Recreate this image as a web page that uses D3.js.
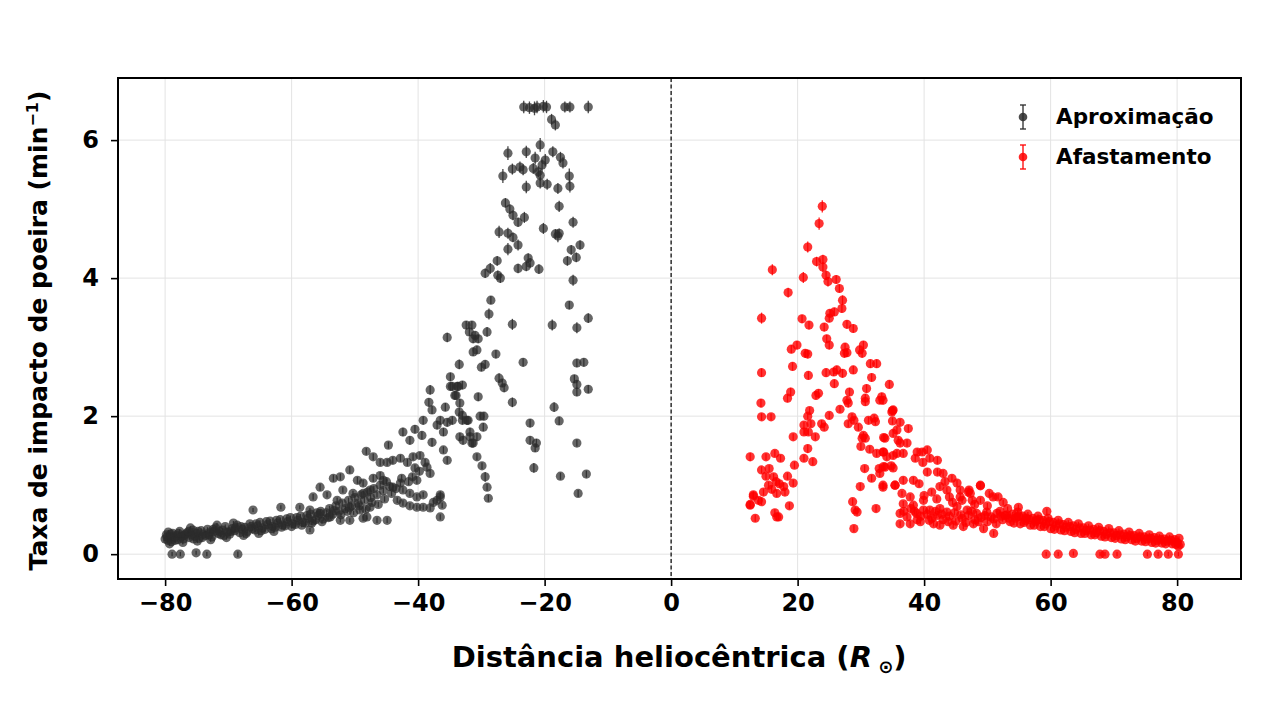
<!DOCTYPE html>
<html>
<head>
<meta charset="utf-8">
<script src="https://cdn.jsdelivr.net/npm/d3@7"></script>
<style>
  body { margin: 0; background: #fff; }
  svg text { font-family: "DejaVu Sans", sans-serif; font-weight: bold; }
</style>
</head>
<body>
<svg id="chart" width="1280" height="720"></svg>
<script>
// Aproximação: [distância (R☉), taxa (min^-1), erro]
const approachBand = [
  [-80.0,.22,.03],[-79.8,.28,.03],[-79.6,.20,.03],[-79.5,.32,.03],[-79.2,.25,.03],[-79.0,.18,.03],[-78.8,.30,.03],
  [-78.5,.24,.03],[-78.2,.27,.03],[-78.0,.21,.03],[-77.7,.33,.03],[-77.4,.26,.03],[-77.1,.22,.03],[-76.8,.29,.03],
  [-76.5,.31,.03],[-76.2,.24,.03],[-75.9,.28,.03],[-75.6,.35,.03],[-75.3,.26,.03],[-75.0,.30,.03],[-74.6,.23,.03],
  [-74.3,.34,.03],[-74.0,.29,.03],[-73.6,.27,.03],[-73.3,.36,.03],[-73.0,.31,.03],[-72.6,.25,.03],[-72.3,.33,.03],
  [-72.0,.38,.03],[-71.6,.30,.03],[-71.2,.28,.03],[-70.9,.35,.03],[-70.5,.40,.03],[-70.1,.32,.03],[-69.8,.29,.03],
  [-69.4,.37,.03],[-69.0,.34,.03],[-68.6,.42,.03],[-68.2,.31,.03],[-67.8,.36,.03],[-67.4,.39,.03],[-67.0,.33,.03],
  [-66.6,.44,.03],[-66.2,.37,.03],[-65.8,.35,.03],[-65.4,.41,.03],[-65.0,.46,.03],[-64.6,.38,.03],[-64.2,.36,.03],
  [-63.8,.43,.03],[-63.4,.48,.03],[-63.0,.40,.03],[-62.6,.39,.03],[-62.2,.45,.03],[-61.8,.50,.03],[-61.4,.42,.03],
  [-61.0,.41,.03],[-60.6,.47,.03],[-60.2,.53,.03],[-59.8,.44,.03],[-59.4,.43,.03],[-59.0,.49,.03],[-58.6,.55,.03],
  [-58.2,.46,.03],[-57.8,.45,.03],[-57.4,.52,.03],[-57.0,.58,.03],[-56.6,.48,.03],[-56.2,.50,.03],[-55.8,.56,.03],
  [-55.4,.62,.03],[-55.0,.51,.03],
  [-78.9,.00,.03],[-77.6,.00,.03],[-75.1,.02,.03],[-73.4,.00,.03],[-68.5,.00,.04],
  [-66.1,.64,.03],[-61.7,.68,.03],[-57.1,.35,.03]
];
const approachBandExtra = [
  [-79.7,.25,.03],[-79.1,.29,.03],[-78.4,.20,.03],[-77.9,.30,.03],[-77.0,.27,.03],[-76.3,.33,.03],[-75.5,.22,.03],
  [-74.8,.33,.03],[-74.1,.24,.03],[-73.1,.28,.03],[-72.4,.36,.03],[-71.4,.33,.03],[-70.7,.27,.03],[-69.6,.33,.03],
  [-68.9,.38,.03],[-68.0,.40,.03],[-67.2,.30,.03],[-66.4,.40,.03],[-65.6,.44,.03],[-64.8,.34,.03],[-64.0,.47,.03],
  [-63.2,.37,.03],[-62.4,.49,.03],[-61.6,.39,.03],[-60.8,.51,.03],[-60.0,.40,.03],[-59.2,.53,.03],[-58.4,.42,.03],
  [-57.6,.56,.03],[-56.8,.45,.03],[-56.0,.60,.03],[-55.2,.47,.03],[-54.2,.53,.03],[-53.3,.63,.03],[-52.2,.57,.03],
  [-51.2,.62,.03],[-50.2,.60,.03],[-49.3,.70,.04],[-48.3,.65,.04],[-47.3,.75,.04],[-46.3,.72,.04],[-45.3,.80,.04],
  [-44.2,.88,.04],[-43.5,.95,.04],[-42.6,1.10,.05],[-41.5,1.05,.05],[-39.8,1.20,.05],[-38.9,1.33,.05],
  [-79.3,.15,.03],[-77.2,.17,.03],[-74.9,.19,.03],[-72.8,.21,.03],[-70.3,.24,.03],[-67.6,.27,.03],[-65.2,.30,.03],
  [-62.8,.33,.03],[-76.0,.38,.03],[-71.8,.42,.03],[-69.2,.45,.03]
];
const approachMid = [
  [-54.5,.60,.04],[-54.0,.66,.04],[-53.5,.58,.04],[-53.0,.70,.04],[-52.5,.62,.04],[-52.0,.74,.04],[-51.5,.66,.04],
  [-51.0,.78,.04],[-50.5,.70,.04],[-50.0,.82,.04],[-49.5,.74,.04],[-49.0,.86,.04],[-48.5,.78,.04],[-48.0,.90,.04],
  [-47.5,.82,.04],[-47.0,.95,.04],[-46.5,.86,.04],[-46.0,1.00,.04],[-45.5,.92,.04],[-45.0,1.05,.04],[-44.5,.98,.04],
  [-58.7,.68,.03],[-57.1,.64,.03],[-55.5,.59,.03],[-53.9,.54,.03],[-52.3,.49,.03],[-50.8,.49,.03],
  [-56.6,.83,.04],[-54.4,.86,.04],[-52.8,.78,.04],[-50.8,.68,.04],[-49.2,.64,.04],[-47.6,.68,.04],
  [-48.1,.54,.04],[-46.5,.49,.04],[-44.9,.49,.04],[-48.7,.52,.04],
  [-43.3,.78,.04],[-42.4,.74,.04],[-41.3,.70,.04],[-40.2,.68,.04],[-39.2,.68,.04],[-38.1,.67,.04],
  [-37.0,.78,.04],[-36.5,.83,.04],[-37.6,.75,.04],[-36.2,.71,.04],[-36.5,.54,.04],[-36.5,.86,.05],
  [-42.4,.93,.04],[-41.3,.88,.04],[-40.2,.83,.04],[-39.2,.86,.04],
  [-45.5,1.07,.05],[-44.0,.97,.05],[-42.8,1.03,.05],
  [-51.9,.93,.04],[-50.3,.88,.04],[-48.7,.88,.04],[-47.6,.93,.04],
  [-49.6,1.07,.05],[-48.7,1.03,.05],[-47.1,1.10,.05],[-46.0,1.14,.05],
  [-53.4,1.10,.05],[-52.3,1.12,.05],[-55.5,.97,.05],[-50.8,1.22,.05],
  [-40.9,1.12,.05],[-40.2,1.07,.05],[-40.5,1.25,.05],[-38.6,1.26,.05],[-38.1,1.17,.05],
  [-46.0,1.33,.05],[-44.9,1.33,.05],[-44.0,1.36,.05],[-42.8,1.39,.05],[-41.7,1.33,.05],[-40.8,1.41,.05],[-39.7,1.43,.05],
  [-48.2,1.49,.05],[-47.1,1.41,.05],[-44.7,1.58,.05],
  [-36.0,1.51,.05],[-35.4,1.36,.05],
  [-42.4,1.77,.06],[-41.3,1.65,.06],[-37.8,1.62,.06],[-40.5,1.81,.06],[-39.4,1.72,.06],[-39.2,1.94,.06],
  [-37.0,1.87,.06],[-36.0,1.77,.06],[-36.5,1.94,.06],[-35.4,1.91,.06],[-34.6,1.94,.06],
  [-38.3,2.20,.06],[-37.8,2.09,.06],[-35.7,2.13,.06],[-38.1,2.38,.07]
];
const approachUpper = [
  [-23.3,6.48,.09],[-22.4,6.47,.09],[-21.6,6.46,.10],[-21.2,6.48,.09],[-20.2,6.49,.09],[-19.7,6.48,.09],
  [-16.8,6.48,.08],[-16.0,6.48,.08],[-13.1,6.48,.09],
  [-18.9,6.30,.08],[-18.3,6.22,.08],[-20.7,5.93,.10],[-25.8,5.81,.10],[-22.9,5.83,.09],[-18.7,5.83,.08],
  [-17.5,5.75,.08],[-17.1,5.67,.08],[-21.5,5.74,.09],[-19.9,5.71,.09],[-25.1,5.58,.08],[-23.9,5.61,.08],
  [-23.4,5.57,.08],[-21.8,5.59,.08],[-21.0,5.54,.08],[-20.4,5.64,.08],[-26.6,5.48,.10],[-20.7,5.49,.08],
  [-16.1,5.48,.11],[-22.9,5.32,.09],[-20.7,5.38,.08],[-19.6,5.36,.08],[-17.9,5.30,.08],[-16.0,5.33,.09],
  [-17.7,5.04,.08],[-26.2,5.09,.07],[-25.5,5.00,.07],[-25.0,4.91,.07],[-24.2,4.81,.07],[-23.2,4.88,.08],
  [-15.5,4.81,.08],[-27.2,4.67,.09],[-25.8,4.65,.08],[-25.0,4.59,.07],[-20.2,4.72,.08],[-18.3,4.64,.07],
  [-17.9,4.61,.09],[-17.7,4.65,.07],[-14.4,4.48,.07],[-25.8,4.42,.09],[-24.2,4.48,.08],[-15.8,4.41,.07],
  [-15.0,4.30,.07],[-16.4,4.25,.07],[-22.6,4.29,.07],[-22.3,4.22,.07],[-24.2,4.14,.07],[-22.9,4.17,.07],
  [-20.9,4.13,.07],[-27.5,4.25,.07],[-28.6,4.14,.08],[-29.4,4.07,.07],[-27.4,4.04,.07],[-27.0,4.00,.07],
  [-15.5,3.97,.08],[-28.5,3.68,.06],[-28.8,3.48,.08],[-16.1,3.61,.06],[-13.1,3.42,.07],[-25.1,3.33,.08],
  [-18.8,3.32,.08],[-14.9,3.28,.08],[-29.1,3.22,.07],[-32.4,3.32,.06],[-31.5,3.32,.06],[-31.9,3.22,.06],
  [-31.0,3.17,.06],[-30.5,3.12,.06],[-31.3,3.12,.06],[-35.4,3.14,.07],[-31.3,2.93,.06],[-30.7,2.96,.06],
  [-27.7,2.90,.06],[-30.0,2.71,.06],[-29.4,2.75,.06],[-23.4,2.78,.06],[-14.9,2.77,.06],[-13.8,2.78,.06],
  [-33.5,2.75,.07],[-34.9,2.57,.06],[-34.6,2.43,.06],[-33.7,2.43,.06],[-33.0,2.45,.06],[-27.2,2.55,.07],
  [-26.7,2.48,.06],[-26.4,2.41,.06],[-15.3,2.54,.06],[-14.9,2.46,.06],[-14.9,2.35,.06],[-13.1,2.39,.06],
  [-34.0,2.30,.06],[-33.4,2.19,.06],[-33.5,2.06,.06],[-30.5,2.28,.06],[-25.1,2.20,.07],[-18.5,2.13,.07],
  [-33.0,2.01,.06],[-32.1,1.94,.06],[-30.2,2.00,.06],[-29.6,2.00,.06],[-29.7,1.84,.06],[-22.3,1.90,.06],
  [-17.7,1.93,.06],[-33.4,1.70,.06],[-31.8,1.77,.06],[-31.5,1.61,.06],[-30.7,1.70,.06],[-22.3,1.65,.06],
  [-21.5,1.54,.06],[-21.3,1.61,.06],[-14.9,1.61,.05],[-30.7,1.41,.05],[-29.9,1.28,.05],[-29.4,1.12,.07],
  [-29.1,.97,.05],[-28.9,.81,.05],[-21.7,1.25,.07],[-17.5,1.13,.05],[-13.4,1.16,.05],[-14.7,.88,.05],
  [-34.9,2.43,.06],[-33.8,2.43,.06],[-34.2,2.30,.06],[-33.0,1.94,.06],[-32.3,1.94,.06],[-32.9,1.65,.06],
  [-31.8,1.70,.06],[-31.3,1.61,.06]
];
// Afastamento
const departureInner = [
  [23.9,5.04,.09],[23.4,4.79,.09],[21.6,4.45,.08],[16.0,4.12,.08],[23.0,4.24,.07],[24.0,4.27,.07],[24.0,4.16,.07],
  [20.9,4.01,.08],[24.5,4.04,.07],[24.8,3.95,.07],[26.1,3.98,.06],[26.6,3.85,.06],[18.5,3.79,.07],[27.1,3.68,.07],
  [27.0,3.56,.06],[25.1,3.49,.06],[25.8,3.51,.06],[14.3,3.42,.08],[20.7,3.41,.06],[21.8,3.32,.06],[24.2,3.29,.06],
  [25.0,3.42,.06],[27.8,3.33,.06],[28.8,3.27,.06],[24.6,3.12,.06],[25.0,3.03,.06],[19.0,2.97,.06],[19.9,3.03,.06],
  [21.2,2.91,.06],[21.6,2.90,.06],[27.5,3.00,.06],[27.8,2.92,.06],[27.4,2.91,.06],[29.8,2.96,.06],[30.4,3.03,.06],
  [30.2,2.91,.06],[19.2,2.72,.06],[31.5,2.76,.06],[32.5,2.76,.06],[14.3,2.63,.06],[21.7,2.59,.06],[24.5,2.63,.06],
  [25.7,2.64,.06],[26.2,2.67,.06],[27.1,2.62,.06],[28.8,2.67,.06],[31.7,2.56,.06],[25.8,2.47,.06],[34.5,2.46,.06],
  [30.9,2.40,.06],[18.9,2.35,.06],[18.4,2.26,.06],[22.9,2.30,.06],[23.3,2.33,.06],[28.2,2.35,.06],[27.8,2.23,.06],
  [28.0,2.19,.06],[30.7,2.26,.06],[30.7,2.21,.06],[33.3,2.28,.06],[33.5,2.23,.06],[14.2,2.19,.06],[26.7,2.10,.05],
  [35.0,2.08,.05],[14.3,1.99,.05],[15.8,1.99,.05],[21.9,2.08,.05],[21.6,2.00,.05],[25.0,2.01,.05],[28.6,1.99,.05],
  [28.9,1.94,.05],[28.0,1.89,.05],[31.2,1.94,.05],[32.1,1.97,.05],[32.3,1.92,.05],[35.0,1.93,.05],[35.7,1.80,.05],
  [21.0,1.87,.05],[22.1,1.89,.05],[21.0,1.77,.05],[21.7,1.77,.05],[23.8,1.89,.05],[24.2,1.84,.05],[22.8,1.70,.05],
  [19.3,1.70,.05],[29.6,1.84,.05],[30.4,1.72,.05],[30.7,1.68,.05],[30.2,1.68,.05],[33.6,1.69,.05],[21.6,1.53,.06],
  [21.0,1.39,.05],[22.4,1.34,.05],[30.0,1.56,.05],[31.4,1.52,.05],[32.5,1.46,.05],[33.6,1.48,.05],[34.1,1.41,.05],
  [35.1,1.43,.05],[35.7,1.46,.05],[12.5,1.41,.06],[15.0,1.41,.05],[16.4,1.46,.05],[17.3,1.39,.05],[19.5,1.29,.05],
  [14.3,1.22,.05],[15.5,1.24,.05],[15.0,1.13,.05],[16.2,1.12,.05],[16.6,1.05,.05],[17.1,1.02,.05],[17.8,.98,.05],
  [18.4,1.13,.05],[19.3,1.03,.05],[30.6,1.24,.05],[31.7,1.10,.05],[32.9,1.24,.05],[33.6,1.27,.05],[34.8,1.28,.05],
  [15.4,1.00,.05],[14.6,.90,.05],[15.9,.94,.05],[16.7,.88,.05],[18.0,.90,.05],[33.5,1.00,.05],[35.4,1.00,.05],
  [29.9,.98,.05],[13.0,.84,.05],[13.8,.78,.05],[12.5,.72,.05],[14.3,.76,.05],[18.7,.70,.05],[28.7,.76,.05],
  [29.1,.64,.05],[29.4,.61,.05],[32.4,.66,.05],[13.3,.52,.05],[16.4,.60,.05],[17.0,.54,.05],[28.9,.37,.05],
  [16.7,.54,.05],[12.5,.71,.05],[13.0,.86,.05]
];
const departureTail = [
  [35.1,2.09,.05],[36.2,1.91,.05],[37.5,1.82,.05],[35.1,1.75,.05],[35.9,1.65,.05],[36.2,1.61,.05],[37.3,1.61,.05],
  [36.7,1.46,.05],[38.9,1.48,.05],[39.7,1.48,.05],[40.5,1.51,.05],[38.6,1.39,.05],[39.8,1.33,.05],[40.9,1.39,.05],
  [42.1,1.36,.05],[40.5,1.19,.05],[42.1,1.19,.05],[43.0,1.17,.05],[44.4,1.10,.05],[45.2,1.03,.05],[47.0,.90,.05],
  [48.9,1.00,.05],[45.7,.83,.04],[47.6,.78,.04],[48.9,.78,.04],[50.9,.83,.04],[51.7,.83,.04],
  [33.0,2.23,.05],[34.9,2.06,.05],[33.8,1.68,.05],[33.5,1.48,.05],[33.8,1.26,.05],[33.0,1.17,.05],[35.1,1.25,.05],
  [33.5,.97,.05],[36.5,.88,.04],[37.8,.83,.04],[36.7,.73,.04],[38.3,.71,.04],[39.9,.78,.04],[36.2,.59,.04],
  [37.3,.54,.04],[38.8,.59,.04],[40.9,.64,.04],[42.5,.66,.04],[43.6,.61,.04],[45.2,.69,.04],[46.8,.64,.04],
  [48.3,.59,.04],[49.9,.61,.04],[51.5,.59,.04],[53.1,.57,.04],[54.7,.54,.04],[56.2,.52,.04],[57.8,.49,.04],
  [36.2,.44,.04],[37.8,.44,.04],[39.4,.47,.04],[41.5,.44,.04],[42.5,.42,.04],[44.6,.42,.04],[46.2,.40,.04],
  [47.8,.44,.04],[49.4,.37,.04],[51.0,.30,.04],[45.7,.93,.04],[47.3,.88,.04],[42.5,.98,.04],[43.6,.93,.04],
  [36.7,1.07,.05],[38.3,1.07,.05],[35.4,1.00,.05],
  [38.5,.62,.04],[39.5,.55,.04],[40.5,.58,.04],[41.2,.52,.04],[42.0,.56,.04],[43.0,.50,.04],[44.0,.55,.04],
  [45.0,.48,.04],[46.0,.52,.04],[47.0,.56,.04],[48.0,.50,.04],[49.0,.53,.04],[50.0,.47,.04],[51.0,.51,.04],
  [44.5,.75,.04],[46.0,.78,.04],[48.0,.72,.04],[50.0,.70,.04],[42.0,.80,.04],[40.0,.85,.04],[52.5,.75,.04],
  [50.3,.88,.04],[59.4,.62,.04],[54.9,.68,.04],[48.9,.99,.05],[47.1,.93,.05],
  [52.0,.62,.03],[52.4,.50,.03],[52.8,.56,.03],[53.2,.66,.03],[53.6,.47,.03],[54.0,.58,.03],[54.4,.52,.03],
  [54.8,.61,.03],[55.2,.44,.03],[55.6,.55,.03],[56.0,.49,.03],[56.4,.58,.03],[56.8,.42,.03],[57.2,.52,.03],
  [57.6,.47,.03],[58.0,.55,.03],[58.4,.40,.03],[58.8,.49,.03],[59.2,.44,.03],[59.6,.52,.03],[60.0,.37,.03],
  [60.4,.46,.03],[60.8,.41,.03],[61.2,.49,.03],[61.6,.35,.03],[62.0,.43,.03],[62.4,.39,.03],[62.8,.46,.03],
  [63.2,.33,.03],[63.6,.41,.03],[64.0,.36,.03],[64.4,.44,.03],[64.8,.30,.03],[65.2,.38,.03],[65.6,.34,.03],
  [66.0,.41,.03],[66.4,.28,.03],[66.8,.36,.03],[67.2,.31,.03],[67.6,.39,.03],[68.0,.26,.03],[68.4,.33,.03],
  [68.8,.29,.03],[69.2,.37,.03],[69.6,.24,.03],[70.0,.31,.03],[70.4,.27,.03],[70.8,.34,.03],[71.2,.22,.03],
  [71.6,.29,.03],[72.0,.25,.03],[72.4,.32,.03],[72.8,.21,.03],[73.2,.27,.03],[73.6,.23,.03],[74.0,.30,.03],
  [74.4,.19,.03],[74.8,.25,.03],[75.2,.22,.03],[75.6,.28,.03],[76.0,.17,.03],[76.4,.24,.03],[76.8,.20,.03],
  [77.2,.26,.03],[77.6,.16,.03],[78.0,.22,.03],[78.4,.19,.03],[78.8,.25,.03],[79.2,.15,.03],[79.6,.21,.03],
  [80.0,.17,.03],[80.3,.23,.03],[80.5,.14,.03],[80.2,.12,.03],
  [59.3,.00,.03],[61.2,.00,.03],[63.6,.01,.03],[67.8,.00,.03],[68.6,.00,.03],[70.5,.00,.03],[75.3,.00,.03],
  [77.0,.00,.03],[78.6,.00,.03],[80.2,.00,.03]
];
const departureBandExtra = [
  [36.8,.62,.04],[37.9,.66,.04],[38.9,.50,.04],[39.9,.64,.04],[40.8,.49,.04],[41.8,.62,.04],[42.8,.58,.04],
  [43.8,.47,.04],[44.8,.60,.04],[45.8,.57,.04],[46.6,.46,.04],[47.5,.62,.04],[48.6,.47,.04],[49.6,.56,.04],
  [50.6,.54,.04],[51.4,.44,.04],[52.2,.55,.03],[53.4,.52,.03],[54.2,.45,.03],[55.0,.55,.03],[55.8,.46,.03],
  [56.6,.50,.03],[57.4,.42,.03],[58.2,.50,.03],[59.0,.40,.03],[59.8,.47,.03],[60.6,.36,.03],[61.4,.44,.03],
  [62.2,.34,.03],[63.0,.40,.03],[63.8,.31,.03],[64.6,.38,.03],[65.4,.30,.03],[66.2,.35,.03],[67.0,.28,.03],
  [67.8,.34,.03],[68.6,.25,.03],[69.4,.31,.03],[70.2,.23,.03],[71.0,.28,.03],[71.8,.21,.03],[72.6,.27,.03],
  [73.4,.19,.03],[74.2,.25,.03],[75.0,.18,.03],[75.8,.23,.03],[76.6,.16,.03],[77.4,.21,.03],[78.2,.15,.03],
  [79.0,.20,.03],[79.8,.14,.03],[44.0,.83,.04],[41.2,.90,.04],[39.2,1.02,.05],[43.3,1.05,.05]
];

const xTicks = [-80, -60, -40, -20, 0, 20, 40, 60, 80];
const yTicks = [0, 2, 4, 6];
const seriesNames = ["Aproximação", "Afastamento"];
const seriesColors = ["#2b2b2b", "#ff0000"];

const svg = d3.select("#chart");
const margin = { left: 118, right: 39, top: 78, bottom: 141 };
const W = 1280 - margin.left - margin.right;
const H = 720 - margin.top - margin.bottom;

const x = d3.scaleLinear().domain([-87.45, 90.1]).range([0, W]);
const y = d3.scaleLinear().domain([-0.36, 6.9]).range([H, 0]);

const g = svg.append("g").attr("transform", `translate(${margin.left},${margin.top})`);

// grid
g.append("g").selectAll("line").data(xTicks).join("line")
  .attr("x1", d => x(d)).attr("x2", d => x(d)).attr("y1", 0).attr("y2", H)
  .attr("stroke", "#e3e3e3").attr("stroke-width", 1);
g.append("g").selectAll("line").data(yTicks).join("line")
  .attr("y1", d => y(d)).attr("y2", d => y(d)).attr("x1", 0).attr("x2", W)
  .attr("stroke", "#e3e3e3").attr("stroke-width", 1);

// zero line
g.append("line")
  .attr("x1", x(0)).attr("x2", x(0)).attr("y1", 0).attr("y2", H)
  .attr("stroke", "#000").attr("stroke-width", 1.2).attr("stroke-dasharray", "4,2.5");

function drawSeries(data, color, opacity) {
  const s = g.append("g");
  s.selectAll("line.err").data(data).join("line")
    .attr("class", "err")
    .attr("x1", d => x(d[0])).attr("x2", d => x(d[0]))
    .attr("y1", d => y(d[1] - d[2])).attr("y2", d => y(d[1] + d[2]))
    .attr("stroke", color).attr("stroke-width", 1.3).attr("opacity", 0.85);
  s.selectAll("circle").data(data).join("circle")
    .attr("cx", d => x(d[0])).attr("cy", d => y(d[1])).attr("r", 4.6)
    .attr("fill", color).attr("fill-opacity", opacity);
}
drawSeries(approachBand.concat(approachBandExtra, approachMid, approachUpper), seriesColors[0], 0.72);
drawSeries(departureInner.concat(departureTail, departureBandExtra), seriesColors[1], 0.8);

// axes
const xAxis = g.append("g").attr("transform", `translate(0,${H})`)
  .call(d3.axisBottom(x).tickValues(xTicks).tickSize(7).tickPadding(8).tickFormat(d => d < 0 ? "\u2212" + Math.abs(d) : d));
const yAxis = g.append("g")
  .call(d3.axisLeft(y).tickValues(yTicks).tickSize(7).tickPadding(12));
[xAxis, yAxis].forEach(a => {
  a.select(".domain").remove();
  a.selectAll(".tick line").attr("stroke", "#000").attr("stroke-width", 1.6);
  a.selectAll(".tick text").attr("fill", "#000").style("font-size", "24px");
});

g.append("rect").attr("width", W).attr("height", H)
  .attr("fill", "none").attr("stroke", "#000").attr("stroke-width", 2);

// labels
const xl = svg.append("text")
  .attr("x", margin.left + x(0) + 8).attr("y", 667)
  .attr("text-anchor", "middle").style("font-size", "29px").attr("fill", "#000");
xl.append("tspan").text("Distância heliocêntrica (");
xl.append("tspan").attr("font-style", "italic").text("R");
xl.append("tspan").attr("dy", 6).style("font-size", "18px").text(" \u2299");
xl.append("tspan").attr("dy", -6).text(")");

const yl = svg.append("text")
  .attr("transform", `translate(47,${margin.top + H / 2 + 2}) rotate(-90)`)
  .attr("text-anchor", "middle").style("font-size", "25px").attr("fill", "#000");
yl.append("tspan").text("Taxa de impacto de poeira (min");
yl.append("tspan").attr("dy", -9).style("font-size", "16px").text("\u22121");
yl.append("tspan").attr("dy", 9).text(")");

// legend
const legend = svg.append("g").attr("transform", "translate(1023,117)");
seriesNames.forEach((name, i) => {
  const li = legend.append("g").attr("transform", `translate(0,${i * 40})`);
  li.append("line").attr("y1", -12).attr("y2", 12).attr("stroke", seriesColors[i]).attr("stroke-width", 1.3);
  li.append("line").attr("x1", -3).attr("x2", 3).attr("y1", -12).attr("y2", -12).attr("stroke", seriesColors[i]).attr("stroke-width", 1.3);
  li.append("line").attr("x1", -3).attr("x2", 3).attr("y1", 12).attr("y2", 12).attr("stroke", seriesColors[i]).attr("stroke-width", 1.3);
  li.append("circle").attr("r", 4.3).attr("fill", seriesColors[i]).attr("fill-opacity", 0.85);
  li.append("text").attr("x", 33).attr("y", 7).style("font-size", "21.5px").attr("fill", "#000").text(name);
});
</script>
</body>
</html>
